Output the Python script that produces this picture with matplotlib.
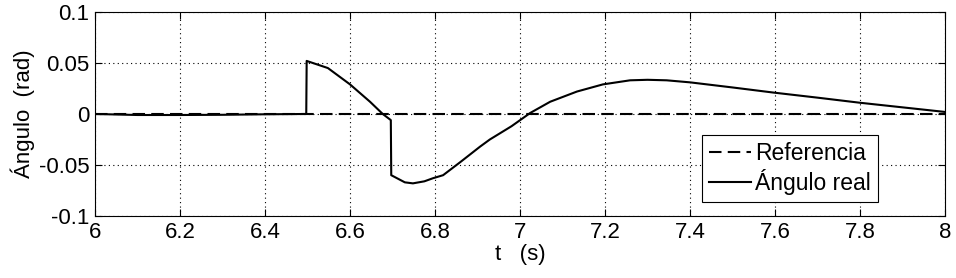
import matplotlib
matplotlib.use("Agg")
from matplotlib import pyplot as plt
import numpy as np

plt.rcParams['font.family'] = ['Liberation Sans', 'DejaVu Sans']

# tiempo (s) y ángulo real (rad)
t = [6.0, 6.05, 6.1, 6.2, 6.3, 6.4, 6.497, 6.498, 6.548, 6.6, 6.647, 6.677, 6.696, 6.697,
     6.729, 6.748, 6.775, 6.795, 6.819, 6.86, 6.906, 6.929, 6.98, 7.024, 7.071, 7.134,
     7.195, 7.259, 7.3, 7.345, 7.40, 7.5, 7.596, 7.7, 7.80, 7.9, 8.0]
angulo = [0.0, -0.0005, -0.001, -0.001, -0.0008, -0.0003, 0.0, 0.052, 0.045, 0.029, 0.012,
          0.0, -0.006, -0.060, -0.067, -0.068, -0.066, -0.063, -0.060, -0.047, -0.032,
          -0.025, -0.012, 0.001, 0.012, 0.022, 0.029, 0.033, 0.0335, 0.033, 0.031, 0.026,
          0.021, 0.016, 0.011, 0.0065, 0.002]
t_ref = [6.0, 8.0]
referencia = [0.0, 0.0]

xticks = [6, 6.2, 6.4, 6.6, 6.8, 7, 7.2, 7.4, 7.6, 7.8, 8]
xticklabels = ['6', '6.2', '6.4', '6.6', '6.8', '7', '7.2', '7.4', '7.6', '7.8', '8']
yticks = [-0.1, -0.05, 0, 0.05, 0.1]
yticklabels = ['-0.1', '-0.05', '0', '0.05', '0.1']

fs = 16

fig = plt.figure(figsize=(9.56, 2.78), dpi=100)
ax = fig.add_axes([0.0994, 0.223, 0.8891, 0.734])

ax.plot(t_ref, referencia, color='k', lw=1.5, dashes=(6, 3), label='Referencia')
ax.plot(t, angulo, color='k', lw=1.5, label='Ángulo real')

ax.set_xlim(6, 8)
ax.set_ylim(-0.1, 0.1)
ax.set_xticks(xticks)
ax.set_xticklabels(xticklabels)
ax.set_yticks(yticks)
ax.set_yticklabels(yticklabels)
ax.tick_params(direction='in', top=True, right=True, labelsize=fs, length=5, width=0.8, pad=4)
ax.grid(True, color='k', linestyle=(0, (1, 3)), linewidth=0.8)
for sp in ax.spines.values():
    sp.set_linewidth(0.8)

ax.set_xlabel('t   (s)', fontsize=fs, labelpad=1)
ax.set_ylabel('Ángulo  (rad)', fontsize=fs, labelpad=3)

leg = ax.legend(loc='lower right', bbox_to_anchor=(0.921, 0.068), fontsize=16.5,
                handlelength=1.85, handletextpad=0.18, borderpad=0.3, borderaxespad=0,
                labelspacing=0.2, fancybox=False, framealpha=1, edgecolor='k')
leg.get_frame().set_linewidth(0.8)

fig.savefig('out.png', dpi=100)
